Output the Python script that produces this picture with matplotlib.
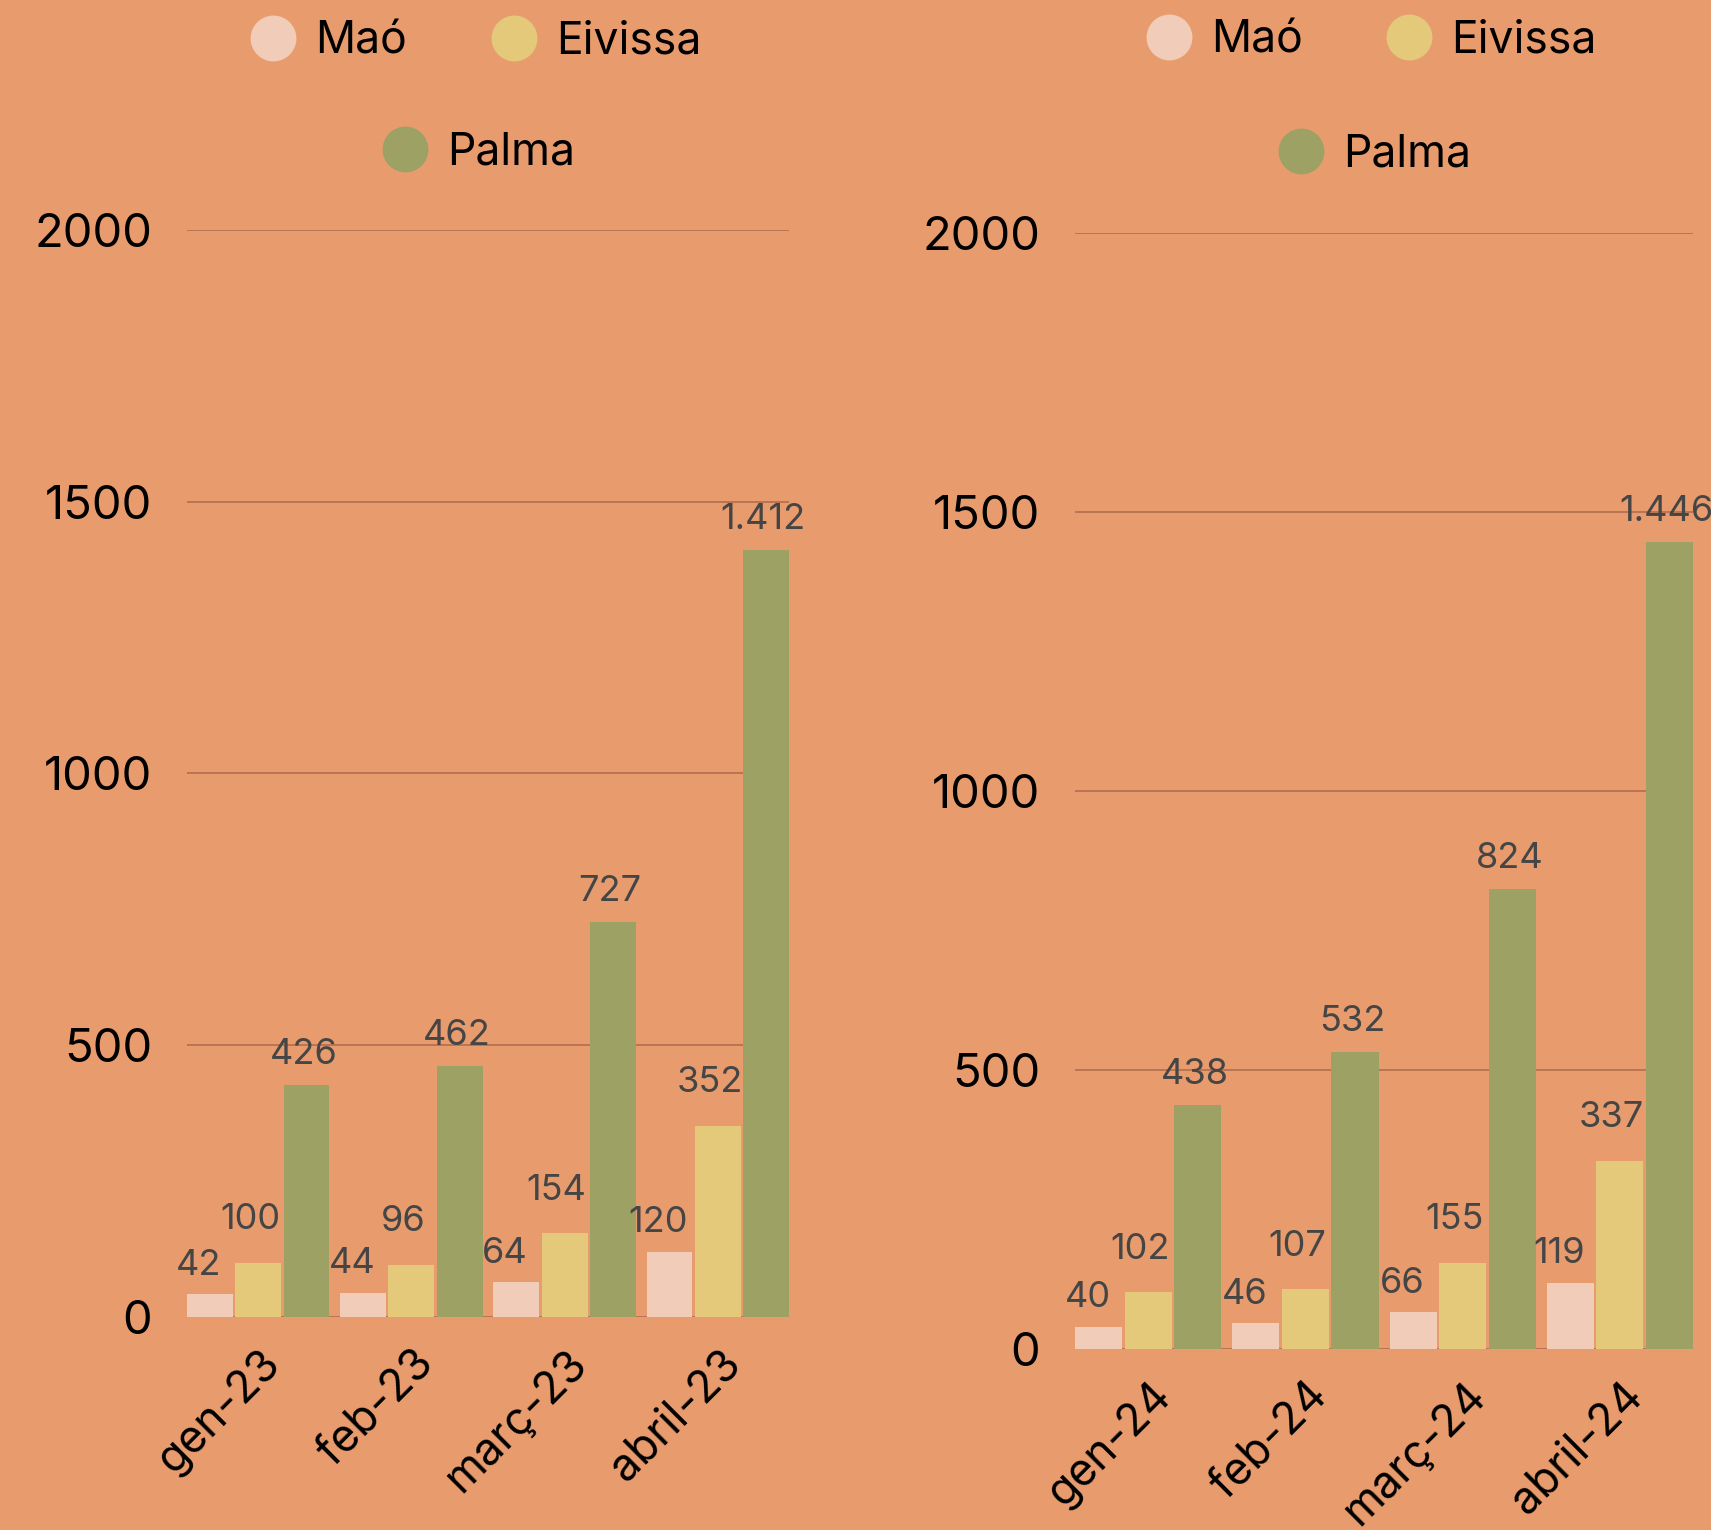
import numpy as np
import matplotlib.pyplot as plt
from matplotlib.lines import Line2D

# dades
mesos_23 = ["gen-23", "feb-23", "març-23", "abril-23"]
mesos_24 = ["gen-24", "feb-24", "març-24", "abril-24"]
series = ["Maó", "Eivissa", "Palma"]

mao_23 = [42, 44, 64, 120]
eivissa_23 = [100, 96, 154, 352]
palma_23 = [426, 462, 727, 1412]

mao_24 = [40, 46, 66, 119]
eivissa_24 = [102, 107, 155, 337]
palma_24 = [438, 532, 824, 1446]

y_ticks = [0, 500, 1000, 1500, 2000]

BG = "#E89C6E"
COLORS = ["#F1CCB8", "#E4C97B", "#9DA163"]
GRID = "#B8714F"
LABEL = "#454545"

plt.rcParams["font.family"] = ["Inter", "DejaVu Sans"]

fig = plt.figure(figsize=(17.11, 15.30), dpi=100)
fig.patch.set_facecolor(BG)

ax1 = fig.add_axes([0.1093, 0.1392, 0.3518, 0.7105])
ax2 = fig.add_axes([0.6283, 0.1183, 0.3612, 0.7291])

width = 0.30
step = 0.315
# per-series label offsets (points)
label_off = [(-8, 21), (-6, 31), (-2, 22)]
# month labels sit a bit right of the group centre
tick_shift = 0.105


def fmt(v):
    return f"{v:,}".replace(",", ".")


def draw(ax, months, data):
    ax.set_facecolor(BG)
    x = np.arange(len(months))
    for k, (vals, col) in enumerate(zip(data, COLORS)):
        xs = x + (k - 1) * step
        bars = ax.bar(xs, vals, width=width, color=col, zorder=3)
        for b, v in zip(bars, vals):
            ax.annotate(fmt(v), (b.get_x() + b.get_width() / 2, v),
                        xytext=label_off[k], textcoords="offset points",
                        ha="center", va="center", fontsize=26, color=LABEL,
                        zorder=4)
    ax.set_xlim(-step - width / 2, len(months) - 1 + step + width / 2)
    ax.set_ylim(0, 2000)
    ax.set_yticks(y_ticks)
    ax.set_yticklabels([str(t) for t in y_ticks], fontsize=34)
    ax.grid(axis="y", color=GRID, linewidth=1.3, zorder=0)
    ax.set_xticks(x + tick_shift)
    ax.set_xticklabels(months, fontsize=32, rotation=45, ha="right",
                       va="center", rotation_mode="anchor")
    ax.tick_params(axis="y", length=0, pad=25)
    ax.tick_params(axis="x", length=0, pad=29)
    for s in ax.spines.values():
        s.set_visible(False)
    ax.set_axisbelow(True)

    handles = [Line2D([0], [0], marker="o", linestyle="none", markersize=32,
                      markerfacecolor=c, markeredgecolor=c) for c in COLORS]
    leg1 = ax.legend(handles[:2], series[:2], loc="center",
                     bbox_to_anchor=(0.48, 1.173), ncol=2, frameon=False,
                     fontsize=32, handlelength=1.0, handletextpad=0.45,
                     columnspacing=1.9)
    ax.add_artist(leg1)
    ax.legend(handles[2:], series[2:], loc="center",
              bbox_to_anchor=(0.485, 1.071), frameon=False, fontsize=32,
              handlelength=1.0, handletextpad=0.45)


draw(ax1, mesos_23, [mao_23, eivissa_23, palma_23])
draw(ax2, mesos_24, [mao_24, eivissa_24, palma_24])

fig.savefig("out.png", dpi=100, facecolor=BG)
